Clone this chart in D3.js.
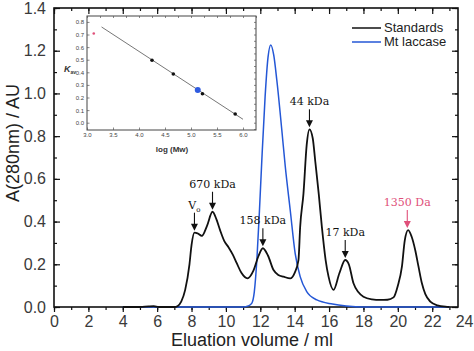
<!DOCTYPE html>
<html>
<head>
<meta charset="utf-8">
<script src="https://cdn.jsdelivr.net/npm/d3@7"></script>
<style>
  body { margin: 0; background: #fff; }
  text { font-family: "Liberation Sans", Arial, sans-serif; }
  .ann { font-family: "DejaVu Serif", "Liberation Serif", serif; font-size: 11px; }
</style>
</head>
<body>
<div id="chart"></div>
<script>
// elution volume (ml) and A280 of the standards run
var stdVolume = [4.0, 5.0, 5.5, 5.8, 6.1, 7.0, 7.2, 7.4, 7.63, 7.88, 8.0, 8.17, 8.35, 8.6, 8.9, 9.22, 9.45, 9.66, 9.9, 10.15,
  10.4, 10.63, 10.9, 11.25, 11.6, 11.9, 12.15, 12.45, 12.77, 13.05, 13.35, 13.74, 14.0, 14.22, 14.32, 14.51, 14.7, 14.86,
  15.05, 15.2, 15.4, 15.58, 15.8, 15.97, 16.26, 16.6, 16.94, 17.15, 17.42, 17.7, 18.0, 18.5, 18.98, 19.4, 19.75, 20.0,
  20.24, 20.4, 20.6, 20.8, 21.01, 21.2, 21.4, 21.6, 21.89, 22.3, 22.86, 23.0];
var stdAbs = [0, 0, 0.003, 0.004, 0, 0, 0.005, 0.025, 0.08, 0.20, 0.29, 0.348, 0.345, 0.333, 0.38, 0.446, 0.41, 0.36, 0.31, 0.28,
  0.245, 0.205, 0.16, 0.134, 0.17, 0.24, 0.275, 0.24, 0.173, 0.15, 0.142, 0.134, 0.16, 0.22, 0.376, 0.53, 0.76, 0.832,
  0.79, 0.68, 0.53, 0.376, 0.22, 0.142, 0.08, 0.158, 0.22, 0.2, 0.111, 0.07, 0.048, 0.036, 0.033, 0.034, 0.045, 0.1,
  0.19, 0.31, 0.36, 0.33, 0.267, 0.19, 0.111, 0.06, 0.025, 0.008, 0.001, 0];

// Mt laccase run
var lacVolume = [4, 11.0, 11.3, 11.5, 11.65, 11.8, 11.95, 12.09, 12.28, 12.45, 12.61, 12.78, 12.96, 13.25, 13.45, 13.74,
  14.03, 14.32, 14.7, 15.29, 16.2, 17, 18, 23];
var lacAbs = [0, 0, 0.005, 0.017, 0.07, 0.22, 0.45, 0.69, 0.985, 1.17, 1.227, 1.18, 1.063, 0.83, 0.66, 0.454,
  0.25, 0.142, 0.072, 0.033, 0.014, 0.005, 0, 0];

// peak labels
var peakNames = ["V", "670 kDa", "158 kDa", "44 kDa", "17 kDa", "1350 Da"];
var peakVolume = [8.17, 9.22, 12.15, 14.86, 16.94, 20.55];
var peakAbs = [0.348, 0.446, 0.275, 0.832, 0.22, 0.36];
var peakColors = ["#111", "#111", "#111", "#111", "#111", "#e0507a"];

// inset calibration: log(Mw) vs Kav
var stdLogMw = [4.25, 4.66, 5.22, 5.85];
var stdKav = [0.496, 0.386, 0.23, 0.069];
var lacLogMw = [5.13];
var lacKav = [0.259];
var markerLogMw = [3.13];
var markerKav = [0.708];
var fitLogMw = [3.28, 6.0];
var fitKav = [0.76, 0.027];

var xTicks = [0, 2, 4, 6, 8, 10, 12, 14, 16, 18, 20, 22, 24];
var yTicks = [0, 0.2, 0.4, 0.6, 0.8, 1.0, 1.2, 1.4];
var insetXTicks = [3.0, 3.5, 4.0, 4.5, 5.0, 5.5, 6.0];
var insetYTicks = [0, 0.1, 0.2, 0.3, 0.4, 0.5, 0.6, 0.7, 0.8];

var width = 474;
var height = 351;

var svg = d3.select("#chart").append("svg")
  .attr("width", width)
  .attr("height", height);

/* Scales */
var xScale = d3.scaleLinear().domain([0, 23.5]).range([54, 458]);
var yScale = d3.scaleLinear().domain([0, 1.4]).range([307, 8]);

/* minor ticks */
var xMinor = d3.range(0, 24, 1);
var yMinor = d3.range(0, 1.41, 0.1);

// bottom
svg.append("g")
  .attr("transform", "translate(0,307)")
  .call(d3.axisBottom(xScale).tickValues(xMinor).tickSize(3).tickFormat(""))
  .call(g => g.select(".domain").remove());
svg.append("g")
  .attr("class", "x axis")
  .attr("transform", "translate(0,307)")
  .call(d3.axisBottom(xScale).tickValues(xTicks).tickSize(5).tickPadding(4).tickFormat(d3.format("d")))
  .call(g => g.select(".domain").remove())
  .call(g => g.selectAll("text").attr("font-size", 16).attr("fill", "#3a3a3a").style("font-family", "Liberation Sans, Arial, sans-serif"));
svg.selectAll(".x.axis .tick").filter(d => d > 23.5)
  .call(t => t.select("line").remove())
  .call(t => t.select("text").attr("text-anchor", "end").attr("x", 473 - xScale(24)));

// top
svg.append("g")
  .attr("transform", "translate(0,8)")
  .call(d3.axisTop(xScale).tickValues(xMinor).tickSize(-3).tickFormat(""))
  .call(g => g.select(".domain").remove());
svg.append("g")
  .attr("transform", "translate(0,8)")
  .call(d3.axisTop(xScale).tickValues(xTicks.filter(d => d <= 23.5)).tickSize(-6).tickFormat(""))
  .call(g => g.select(".domain").remove());

// left
svg.append("g")
  .attr("transform", "translate(54,0)")
  .call(d3.axisLeft(yScale).tickValues(yMinor).tickSize(-3).tickFormat(""))
  .call(g => g.select(".domain").remove());
svg.append("g")
  .attr("class", "y axis")
  .attr("transform", "translate(54,0)")
  .call(d3.axisLeft(yScale).tickValues(yTicks).tickSize(-6).tickPadding(8).tickFormat(d3.format(".1f")))
  .call(g => g.select(".domain").remove())
  .call(g => g.selectAll("text").attr("font-size", 16).attr("fill", "#3a3a3a").style("font-family", "Liberation Sans, Arial, sans-serif"));

// right
svg.append("g")
  .attr("transform", "translate(458,0)")
  .call(d3.axisRight(yScale).tickValues(yMinor).tickSize(-3).tickFormat(""))
  .call(g => g.select(".domain").remove());
svg.append("g")
  .attr("transform", "translate(458,0)")
  .call(d3.axisRight(yScale).tickValues(yTicks).tickSize(-6).tickFormat(""))
  .call(g => g.select(".domain").remove());

svg.selectAll(".tick line").attr("stroke", "#111").attr("stroke-width", 1.2);

/* frame */
svg.append("rect")
  .attr("x", 54).attr("y", 8)
  .attr("width", 458 - 54).attr("height", 307 - 8)
  .attr("fill", "none")
  .attr("stroke", "#111")
  .attr("stroke-width", 1.6);

/* axis titles */
svg.append("text")
  .attr("x", 252).attr("y", 346)
  .attr("text-anchor", "middle")
  .attr("font-size", 18)
  .attr("fill", "#222")
  .text("Eluation volume / ml");

svg.append("text")
  .attr("transform", "translate(19,143) rotate(-90)")
  .attr("text-anchor", "middle")
  .attr("font-size", 18)
  .attr("fill", "#222")
  .text("A(280nm) / AU");

/* lines */
var line = d3.line()
  .x(d => xScale(d[0]))
  .y(d => yScale(d[1]))
  .curve(d3.curveMonotoneX);

var lacData = d3.zip(lacVolume, lacAbs);
var stdData = d3.zip(stdVolume, stdAbs);

svg.append("path")
  .attr("d", line(lacData))
  .attr("fill", "none")
  .attr("stroke", "#2457d6")
  .attr("stroke-width", 1.5);

svg.append("path")
  .attr("d", line(stdData))
  .attr("fill", "none")
  .attr("stroke", "#111")
  .attr("stroke-width", 1.8);

/* peak arrows and labels */
var ann = svg.append("g");
peakNames.forEach(function(name, i) {
  var px = xScale(peakVolume[i]);
  var py = yScale(peakAbs[i]) - 2;
  var len = 18;
  var g = ann.append("g").attr("stroke", peakColors[i]).attr("fill", peakColors[i]);
  g.append("line")
    .attr("x1", px).attr("x2", px)
    .attr("y1", py - len).attr("y2", py - 4)
    .attr("stroke-width", 1.1);
  g.append("path")
    .attr("d", "M" + (px - 3.5) + "," + (py - 7) + "L" + px + "," + py + "L" + (px + 3.5) + "," + (py - 7) + "Z")
    .attr("stroke", "none");
  var t = ann.append("text")
    .attr("class", "ann")
    .attr("x", px)
    .attr("y", py - len - 4)
    .attr("text-anchor", "middle")
    .attr("fill", peakColors[i])
    .text(name);
  if (name === "V") {
    t.append("tspan").attr("dy", 3).attr("font-size", 7).text("o");
  }
});

/* legend */
var legendNames = ["Standards", "Mt laccase"];
var legendColors = ["#111", "#2457d6"];
legendNames.forEach(function(name, i) {
  svg.append("line")
    .attr("x1", 352).attr("x2", 381)
    .attr("y1", 28 + i * 14).attr("y2", 28 + i * 14)
    .attr("stroke", legendColors[i])
    .attr("stroke-width", 1.5);
  svg.append("text")
    .attr("x", 384).attr("y", 32 + i * 14)
    .attr("font-size", 13)
    .attr("fill", "#222")
    .text(name);
});

/* inset */
var ix = d3.scaleLinear().domain([3, 6.25]).range([87, 256]);
var iy = d3.scaleLinear().domain([-0.058, 0.847]).range([130, 16]);
var inset = svg.append("g");

inset.append("rect")
  .attr("x", 87).attr("y", 16)
  .attr("width", 256 - 87).attr("height", 130 - 16)
  .attr("fill", "#fff")
  .attr("stroke", "#444")
  .attr("stroke-width", 1);

inset.append("g")
  .attr("transform", "translate(0,130)")
  .call(d3.axisBottom(ix).tickValues(insetXTicks).tickSize(-2.5).tickPadding(3).tickFormat(d3.format(".1f")))
  .call(g => g.select(".domain").remove())
  .call(g => g.selectAll("text").attr("font-size", 6).attr("fill", "#444"));
inset.append("g")
  .attr("transform", "translate(87,0)")
  .call(d3.axisLeft(iy).tickValues(insetYTicks).tickSize(-2.5).tickPadding(3).tickFormat(d3.format(".1f")))
  .call(g => g.select(".domain").remove())
  .call(g => g.selectAll("text").attr("font-size", 6).attr("fill", "#444"));
inset.append("g")
  .attr("transform", "translate(256,0)")
  .call(d3.axisRight(iy).tickValues(d3.range(-0.05, 0.85, 0.05)).tickSize(-2).tickFormat(""))
  .call(g => g.select(".domain").remove());
inset.append("g")
  .attr("transform", "translate(0,16)")
  .call(d3.axisTop(ix).tickValues(d3.range(3, 6.26, 0.25)).tickSize(-2).tickFormat(""))
  .call(g => g.select(".domain").remove());
inset.selectAll(".tick line").attr("stroke", "#555").attr("stroke-width", 0.7);

inset.append("path")
  .attr("d", d3.line().x(d => ix(d[0])).y(d => iy(d[1]))(d3.zip(fitLogMw, fitKav)))
  .attr("stroke", "#777")
  .attr("stroke-width", 1)
  .attr("fill", "none");

inset.selectAll(".std")
  .data(d3.zip(stdLogMw, stdKav)).enter()
  .append("circle")
  .attr("cx", d => ix(d[0]))
  .attr("cy", d => iy(d[1]))
  .attr("r", 1.8)
  .attr("fill", "#111");

inset.selectAll(".lac")
  .data(d3.zip(lacLogMw, lacKav)).enter()
  .append("circle")
  .attr("cx", d => ix(d[0]))
  .attr("cy", d => iy(d[1]))
  .attr("r", 3)
  .attr("fill", "#2f5be0");

inset.selectAll(".marker")
  .data(d3.zip(markerLogMw, markerKav)).enter()
  .append("circle")
  .attr("cx", d => ix(d[0]))
  .attr("cy", d => iy(d[1]))
  .attr("r", 1.3)
  .attr("fill", "#e0507a");

inset.append("text")
  .attr("x", 172).attr("y", 152)
  .attr("text-anchor", "middle")
  .attr("font-size", 8)
  .attr("font-weight", "bold")
  .attr("fill", "#333")
  .text("log (Mw)");

var kav = inset.append("text")
  .attr("x", 64).attr("y", 72)
  .attr("font-size", 9)
  .attr("font-weight", "bold")
  .attr("font-style", "italic")
  .attr("fill", "#333")
  .text("K");
kav.append("tspan").attr("dy", 2).attr("font-size", 5).attr("font-style", "normal").text("av");
</script>
</body>
</html>
